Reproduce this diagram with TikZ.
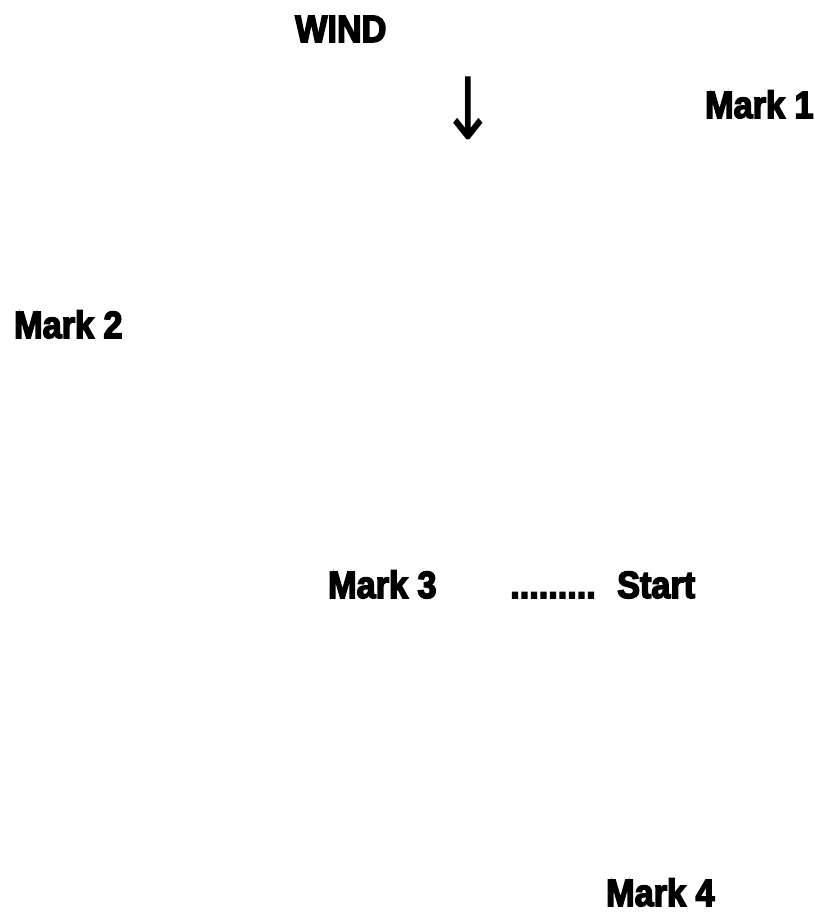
\documentclass[tikz,border=0pt]{standalone}
\usepackage{fontspec}
\newfontfamily\markfont{Liberation Sans}[UprightFont=* Bold,FakeStretch=0.9,FakeBold=4]
\newfontfamily\arrowfont{DejaVu Sans}
\usepackage{tikz}
\usetikzlibrary{positioning}

\begin{document}
\begin{tikzpicture}[x=1pt,y=-1pt]
    \tikzset{
        marklabel/.style={anchor=base west,inner sep=0pt,font=\markfont\fontsize{38}{40}\selectfont},
        windarrow/.style={anchor=center,inner sep=0pt,xscale=0.8,font=\arrowfont\fontsize{86}{86}\selectfont}
    }
    \useasboundingbox (0,0) rectangle (814,913);
    % wind
    \node[marklabel] (wind) at (295,42) {WIND};
    \node[windarrow] (arrow) at (468,108) {↓};
    % marks
    \node[marklabel] (mark1) at (705,118) {Mark 1};
    \node[marklabel] (mark2) at (14,338) {Mark 2};
    \node[marklabel] (mark3) at (328,598) {Mark 3};
    \node[marklabel] (dots) at (510,598) {.........};
    \node[marklabel] (start) at (617,598) {Start};
    \node[marklabel] (mark4) at (606,906) {Mark 4};
\end{tikzpicture}
\end{document}
